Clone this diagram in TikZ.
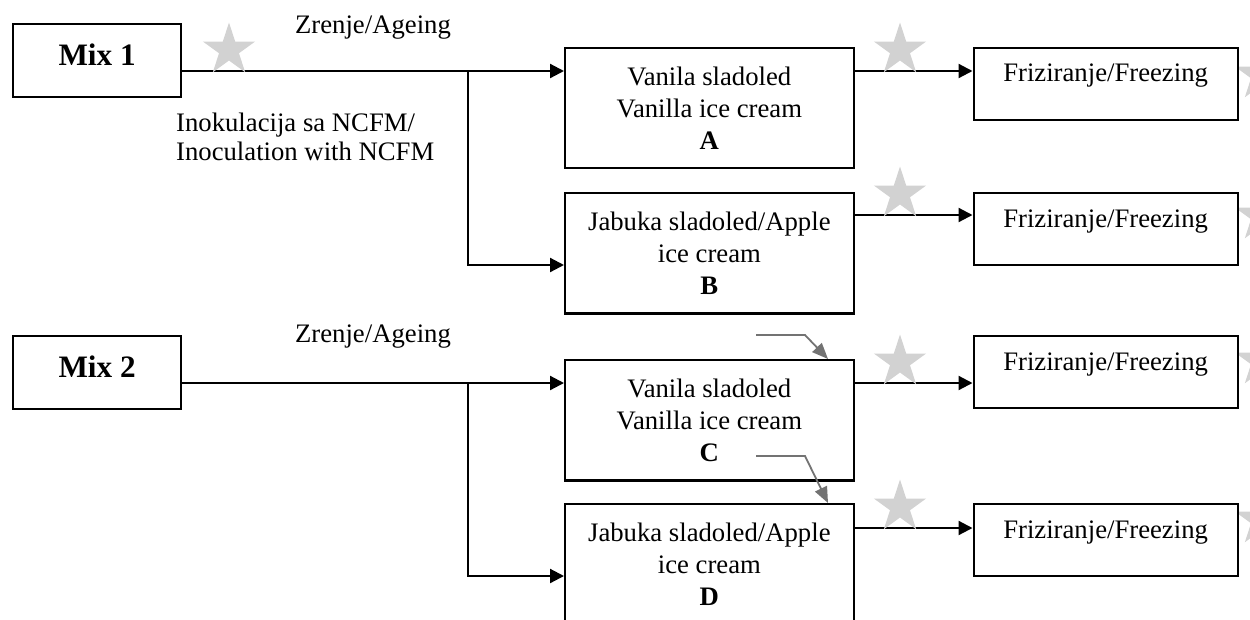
\documentclass[tikz,border=0pt]{standalone}
\usepackage{fontspec}
\setmainfont{Liberation Serif}
\usetikzlibrary{arrows.meta,shapes.geometric}
\definecolor{stargray}{RGB}{210,210,210}
\definecolor{garrow}{RGB}{115,115,115}
\newcommand{\bodyfont}{\fontsize{26.7}{32}\selectfont}
\newcommand{\inofont}{\fontsize{26.7}{29}\selectfont}
\newcommand{\mixfont}{\fontsize{31.2}{36}\selectfont\bfseries}
\begin{document}
\begin{tikzpicture}[x=1pt,y=-1pt,
  mixbox/.style={draw, line width=2.2pt, fill=white, inner sep=0pt, minimum width=168pt,
    text height=41pt, text depth=32pt, font=\mixfont},
  mainbox/.style={draw, line width=2.2pt, fill=white, inner sep=0pt, minimum width=288.5pt,
    minimum height=120.3pt, align=center, font=\bodyfont},
  frbox/.style={draw, line width=2.2pt, fill=white, inner sep=0pt, minimum width=264pt,
    text height=34pt, text depth=38pt, font=\bodyfont},
  ln/.style={line width=2.2pt},
  arr/.style={line width=2.2pt, -{Triangle[length=14pt,width=14pt]}},
  garr/.style={draw=garrow, line width=1.8pt, -{Triangle[length=16pt,width=13pt]}},
  gstar/.style={star, star points=5, star point ratio=2.618, minimum size=55pt,
    inner sep=0pt, fill=stargray, draw=none},
  lbl/.style={font=\bodyfont, inner sep=0pt}
]
\useasboundingbox (0,0) rectangle (1250,619);
\clip (0,0) rectangle (1250,619);

% partial stars at right edge
\node[gstar] (p1) at (1261,75) {};
\node[gstar] (p2) at (1261,216) {};
\node[gstar] (p3) at (1261,361) {};
\node[gstar] (p4) at (1261,520) {};

% boxes
\node[mixbox, anchor=north west] (M1) at (12,23) {Mix 1};
\node[mixbox, anchor=north west] (M2) at (12,335) {Mix 2};
\node[mainbox, anchor=north west] (A) at (564,46.7) {Vanila sladoled\\Vanilla ice cream\\\textbf{A}};
\node[mainbox, anchor=north west] (B) at (564,192) {Jabuka sladoled/Apple\\ice cream\\\textbf{B}};
\node[mainbox, anchor=north west] (C) at (564,359) {Vanila sladoled\\Vanilla ice cream\\\textbf{C}};
\node[mainbox, anchor=north west] (D) at (564,503) {Jabuka sladoled/Apple\\ice cream\\\textbf{D}};
\node[frbox, anchor=north west] (F1) at (972.5,46.7) {Friziranje/Freezing};
\node[frbox, anchor=north west] (F2) at (972.5,192) {Friziranje/Freezing};
\node[frbox, anchor=north west] (F3) at (972.5,335) {Friziranje/Freezing};
\node[frbox, anchor=north west] (F4) at (972.5,503) {Friziranje/Freezing};

% labels
\node[lbl] (z1) at (373,28) {Zrenje/Ageing};
\node[lbl] (z2) at (373,337) {Zrenje/Ageing};
\node[font=\inofont, align=left, anchor=west, inner sep=0pt] (ino) at (176,137)
  {Inokulacija sa NCFM/\\Inoculation with NCFM};

% connectors
\coordinate (j1) at (468,71);
\coordinate (b1) at (468,265);
\coordinate (j2) at (468,383);
\coordinate (b2) at (468,576);
\coordinate (r2) at (0,215);
\coordinate (r4) at (0,528);

\draw[ln] (M1.east |- j1) -- (j1);
\draw[arr] (j1) -- (A.west |- j1);
\draw[arr] (j1) -- (b1) -- (B.west |- b1);
\draw[ln] (M2.east |- j2) -- (j2);
\draw[arr] (j2) -- (C.west |- j2);
\draw[arr] (j2) -- (b2) -- (D.west |- b2);

\draw[arr] (A.east |- j1) -- (F1.west |- j1);
\draw[arr] (B.east |- r2) -- (F2.west |- r2);
\draw[arr] (C.east |- j2) -- (F3.west |- j2);
\draw[arr] (D.east |- r4) -- (F4.west |- r4);

% gray arrows
\coordinate (g1) at (756,335);
\coordinate (g1b) at (805,335);
\coordinate (gt) at (828,0);
\coordinate (g2) at (756,456);
\coordinate (g2b) at (805,456);
\draw[garr] (g1) -- (g1b) -- (C.north -| gt);
\draw[garr] (g2) -- (g2b) -- (D.north -| gt);

% stars
\node[gstar] (s1) at (229,50) {};
\node[gstar] (s2) at (900,50) {};
\node[gstar] (s3) at (900,194) {};
\node[gstar] (s4) at (900,362) {};
\node[gstar] (s5) at (900,507) {};
\end{tikzpicture}
\end{document}
